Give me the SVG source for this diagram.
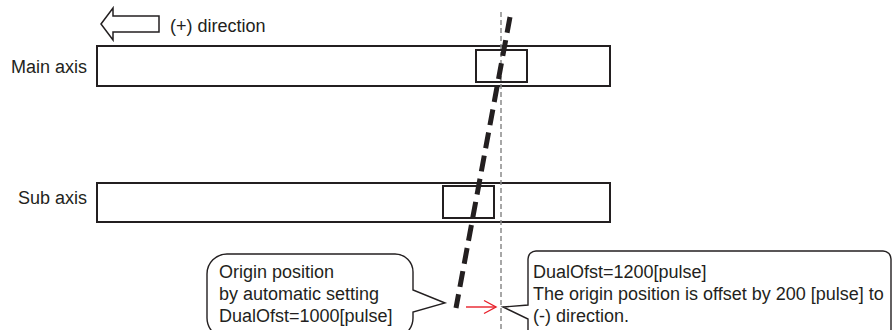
<svg xmlns="http://www.w3.org/2000/svg" width="892" height="330" viewBox="0 0 892 330">
<style>
text{font-family:"Liberation Sans",Arial,Helvetica,sans-serif;font-size:18px;fill:#231f20}
.bar{fill:#fff;stroke:#231f20;stroke-width:2}
.box{fill:none;stroke:#231f20;stroke-width:2}
.bubble{fill:#fff;stroke:#231f20;stroke-width:1.4;stroke-linejoin:miter}
</style>
<rect width="892" height="330" fill="#fff"/>
<g id="direction">
<polygon points="101,24 113,8 113,16 159,16 159,32 113,32 113,40" fill="#fff" stroke="#231f20" stroke-width="1.5" stroke-linejoin="miter"/>
<text x="170" y="32">(+) direction</text>
</g>
<g id="main-axis">
<text x="87" y="73" text-anchor="end">Main axis</text>
<rect class="bar" x="97" y="46" width="513" height="40"/>
<rect class="box" x="476" y="50" width="51" height="32"/>
</g>
<g id="sub-axis">
<text x="87" y="204" text-anchor="end">Sub axis</text>
<rect class="bar" x="97" y="183" width="513" height="39"/>
<rect class="box" x="443" y="186" width="51" height="32"/>
</g>
<g id="connectors">
<line x1="501" y1="12" x2="501" y2="330" stroke="#8a8a8a" stroke-width="1.5" stroke-dasharray="5,3"/>
<line x1="510" y1="17" x2="456" y2="308" stroke="#231f20" stroke-width="5" stroke-dasharray="16,7.5"/>
<g stroke="#e8202a" stroke-width="1.4" fill="none">
<line x1="466" y1="307" x2="496" y2="307"/>
<polyline points="484,300.5 496,307 484,313.5"/>
</g>
</g>
<g id="callout-auto">
<path class="bubble" d="M227,254 H395 A18,18 0 0 1 413,272 V290 L445,303 L413,312 V318 A20,20 0 0 1 393,338 H227 A20,20 0 0 1 207,318 V274 A20,20 0 0 1 227,254 Z"/>
<text x="219" y="278">Origin position</text>
<text x="219" y="300">by automatic setting</text>
<text x="219" y="322">DualOfst=1000[pulse]</text>
</g>
<g id="callout-offset">
<path class="bubble" d="M536,251 H883 A8,8 0 0 1 891,259 V345 H528 V319 L503,307 L528,305 V259 A8,8 0 0 1 536,251 Z"/>
<text x="533" y="278">DualOfst=1200[pulse]</text>
<text x="533" y="300">The origin position is offset by 200 [pulse] to</text>
<text x="533" y="322">(-) direction.</text>
</g>
</svg>
